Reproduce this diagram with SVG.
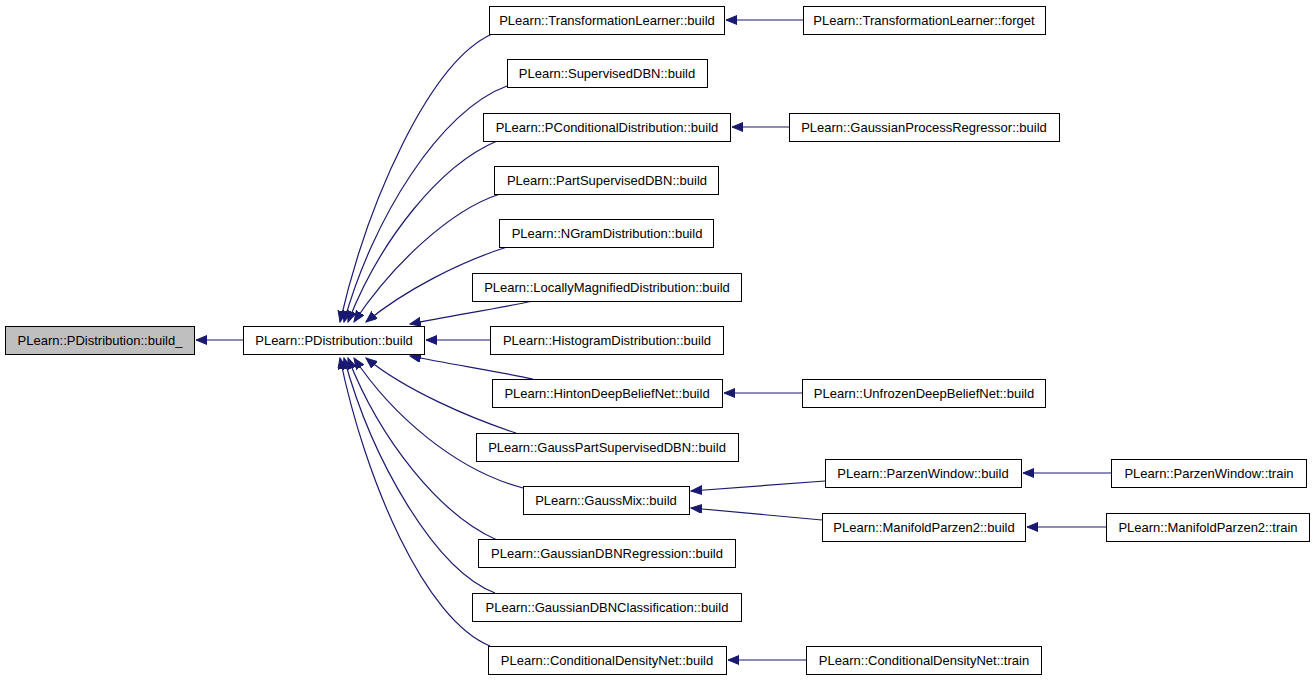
<svg xmlns="http://www.w3.org/2000/svg" width="1315" height="680" viewBox="0 0 1315 680">
<style>
.n rect{fill:#fff;stroke:#000;stroke-width:1}
.n text{font-family:"Liberation Sans",Arial,sans-serif;font-size:13px;text-anchor:middle;fill:#000}
#e path{fill:none;stroke:#191970;stroke-width:1.2;marker-end:url(#a)}
</style>
<defs>
<marker id="a" markerWidth="12" markerHeight="10" refX="11" refY="4.5" orient="auto" markerUnits="userSpaceOnUse">
<path d="M0,0 L11,4.5 L0,9 z" fill="#191970" stroke="#191970"/>
</marker>
</defs>
<rect width="1315" height="680" fill="#fff"/>
<g id="e">
<path d="M243,340 L196,340"/>
<path d="M492,34 C430,62 368,200 340,322"/>
<path d="M507,86 C440,110 372,220 344,322"/>
<path d="M497,141 C440,165 380,240 348,322"/>
<path d="M500,194 C450,210 392,265 354,322"/>
<path d="M507,247 C460,262 405,290 366,322"/>
<path d="M533,301 C500,308 450,316 410,324"/>
<path d="M490,340 L426,340"/>
<path d="M533,379 C500,372 450,364 410,356"/>
<path d="M516,433 C470,418 405,390 366,358"/>
<path d="M523,488 C455,470 392,415 354,358"/>
<path d="M497,540 C440,515 380,440 348,358"/>
<path d="M495,593 C435,570 372,460 344,358"/>
<path d="M490,646 C425,620 365,480 340,358"/>
<path d="M803,20 L726,20"/>
<path d="M789,127 L732,127"/>
<path d="M802,393 L724,393"/>
<path d="M806,660 L728,660"/>
<path d="M825,481 L691,491"/>
<path d="M822,520 L691,508"/>
<path d="M1111,473 L1023,473"/>
<path d="M1106,527 L1027,527"/>
</g>
<g id="n0" class="n"><rect x="5.5" y="326.5" width="189" height="28" style="fill:#bfbfbf"/><text x="100" y="345">PLearn::PDistribution::build_</text></g>
<g id="n1" class="n"><rect x="243.5" y="326.5" width="181" height="28"/><text x="334" y="345">PLearn::PDistribution::build</text></g>
<g id="n2" class="n"><rect x="489.5" y="6.5" width="235" height="28"/><text x="607" y="25">PLearn::TransformationLearner::build</text></g>
<g id="n3" class="n"><rect x="507.5" y="59.5" width="200" height="28"/><text x="607" y="78">PLearn::SupervisedDBN::build</text></g>
<g id="n4" class="n"><rect x="483.5" y="113.5" width="247" height="28"/><text x="607" y="132">PLearn::PConditionalDistribution::build</text></g>
<g id="n5" class="n"><rect x="494.5" y="166.5" width="224" height="28"/><text x="607" y="185">PLearn::PartSupervisedDBN::build</text></g>
<g id="n6" class="n"><rect x="499.5" y="219.5" width="214" height="28"/><text x="607" y="238">PLearn::NGramDistribution::build</text></g>
<g id="n7" class="n"><rect x="472.5" y="273.5" width="269" height="28"/><text x="607" y="292">PLearn::LocallyMagnifiedDistribution::build</text></g>
<g id="n8" class="n"><rect x="490.5" y="326.5" width="233" height="28"/><text x="607" y="345">PLearn::HistogramDistribution::build</text></g>
<g id="n9" class="n"><rect x="492.5" y="379.5" width="230" height="28"/><text x="607" y="398">PLearn::HintonDeepBeliefNet::build</text></g>
<g id="n10" class="n"><rect x="476.5" y="433.5" width="262" height="28"/><text x="607" y="452">PLearn::GaussPartSupervisedDBN::build</text></g>
<g id="n11" class="n"><rect x="523.5" y="486.5" width="166" height="28"/><text x="606" y="505">PLearn::GaussMix::build</text></g>
<g id="n12" class="n"><rect x="478.5" y="539.5" width="257" height="28"/><text x="607" y="558">PLearn::GaussianDBNRegression::build</text></g>
<g id="n13" class="n"><rect x="472.5" y="593.5" width="269" height="28"/><text x="607" y="612">PLearn::GaussianDBNClassification::build</text></g>
<g id="n14" class="n"><rect x="488.5" y="646.5" width="238" height="28"/><text x="607" y="665">PLearn::ConditionalDensityNet::build</text></g>
<g id="n15" class="n"><rect x="803.5" y="6.5" width="242" height="28"/><text x="924" y="25">PLearn::TransformationLearner::forget</text></g>
<g id="n16" class="n"><rect x="789.5" y="113.5" width="270" height="28"/><text x="924" y="132">PLearn::GaussianProcessRegressor::build</text></g>
<g id="n17" class="n"><rect x="802.5" y="379.5" width="243" height="28"/><text x="924" y="398">PLearn::UnfrozenDeepBeliefNet::build</text></g>
<g id="n18" class="n"><rect x="825.5" y="459.5" width="196" height="28"/><text x="923" y="478">PLearn::ParzenWindow::build</text></g>
<g id="n19" class="n"><rect x="822.5" y="513.5" width="203" height="28"/><text x="924" y="532">PLearn::ManifoldParzen2::build</text></g>
<g id="n20" class="n"><rect x="806.5" y="646.5" width="235" height="28"/><text x="924" y="665">PLearn::ConditionalDensityNet::train</text></g>
<g id="n21" class="n"><rect x="1111.5" y="459.5" width="195" height="28"/><text x="1209" y="478">PLearn::ParzenWindow::train</text></g>
<g id="n22" class="n"><rect x="1106.5" y="513.5" width="203" height="28"/><text x="1208" y="532">PLearn::ManifoldParzen2::train</text></g>
</svg>
